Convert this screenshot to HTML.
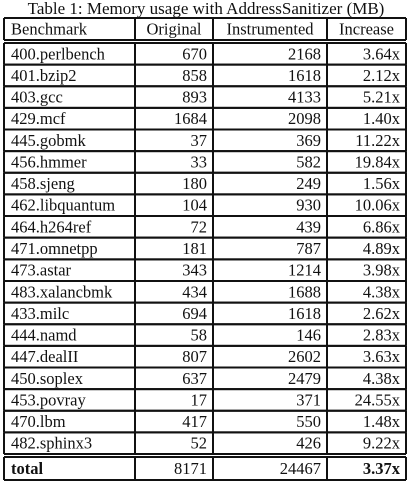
<!DOCTYPE html>
<html><head><meta charset="utf-8"><style>
body{margin:0;background:#fff;width:416px;height:488px;overflow:hidden}
svg text{font-family:"Liberation Serif",serif;font-size:16.5px;fill:#111}
</style></head><body>
<svg width="416" height="488" id="t">
<text x="206" y="14" text-anchor="middle" style="font-size:17px">Table 1: Memory usage with AddressSanitizer (MB)</text>
</svg>
<script>
const names=["400.perlbench","401.bzip2","403.gcc","429.mcf","445.gobmk","456.hmmer","458.sjeng","462.libquantum","464.h264ref","471.omnetpp","473.astar","483.xalancbmk","433.milc","444.namd","447.dealII","450.soplex","453.povray","470.lbm","482.sphinx3"];
const original=[670,858,893,1684,37,33,180,104,72,181,343,434,694,58,807,637,17,417,52];
const instrumented=[2168,1618,4133,2098,369,582,249,930,439,787,1214,1688,1618,146,2602,2479,371,550,426];
const increase=["3.64x","2.12x","5.21x","1.40x","11.22x","19.84x","1.56x","10.06x","6.86x","4.89x","3.98x","4.38x","2.62x","2.83x","3.63x","4.38x","24.55x","1.48x","9.22x"];
const headers=["Benchmark","Original","Instrumented","Increase"];
const totals=["total","8171","24467","3.37x"];
const svg=document.getElementById('t');const NS="http://www.w3.org/2000/svg";
const L=4,R=406,cols=[4,135,213,327,406];
const hTop=18,hBot=40,dTop=43,rowH=(454-43)/names.length,tTop=457,tBot=480;
function line(x1,y1,x2,y2){const l=document.createElementNS(NS,'line');l.setAttribute('x1',x1);l.setAttribute('y1',y1);l.setAttribute('x2',x2);l.setAttribute('y2',y2);l.setAttribute('stroke','#111');l.setAttribute('stroke-width','2');


svg.appendChild(l);}
function txt(s,col,yc,bold,nm){const t=document.createElementNS(NS,'text');t.textContent=s;
if(col===0){t.setAttribute('x',cols[0]+7);}else{t.setAttribute('x',cols[col+1]-6);t.setAttribute('text-anchor','end');}
t.setAttribute('y',yc+5.5);if(bold)t.setAttribute('font-weight','bold');


svg.appendChild(t);}
function block(y1,y2){line(L,y1,R,y1);line(L,y2,R,y2);cols.forEach(x=>line(x,y1,x,y2));}
block(hTop,hBot);
headers.forEach((h,i)=>{const t=document.createElementNS(NS,'text');t.textContent=h;
if(i===0)t.setAttribute('x',cols[0]+7);else{t.setAttribute('x',(cols[i]+cols[i+1])/2);t.setAttribute('text-anchor','middle');}
t.setAttribute('y',(hTop+hBot)/2+5.5);


svg.appendChild(t);});
names.forEach((n,i)=>{const y1=dTop+i*rowH,y2=y1+rowH;block(y1,y2);const yc=(y1+y2)/2;
txt(n,0,yc,false,'benchmark-name');txt(String(original[i]),1,yc,false,'original-value');txt(String(instrumented[i]),2,yc,false,'instrumented-value');txt(increase[i],3,yc,false,'increase-value');});
block(tTop,tBot);
const tc=(tTop+tBot)/2;
txt(totals[0],0,tc,true,'total-label');txt(totals[1],1,tc,false,'total-original');txt(totals[2],2,tc,false,'total-instrumented');txt(totals[3],3,tc,true,'total-increase');
</script>
</body></html>
